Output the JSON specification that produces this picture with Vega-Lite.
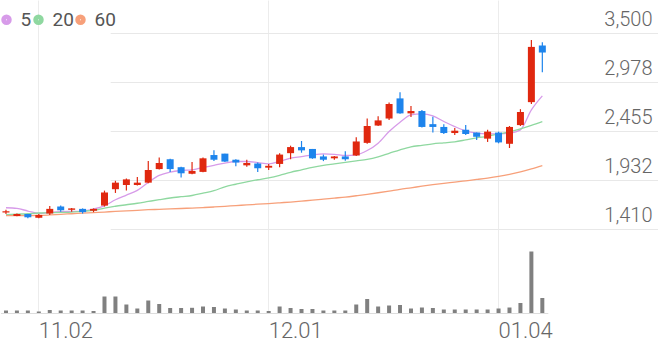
{
  "$schema": "https://vega.github.io/schema/vega-lite/v6.json",
  "padding": 0,
  "autosize": {"type": "pad"},
  "bounds": "flush",
  "spacing": 0,
  "background": "white",
  "config": {"view": {"stroke": null}, "font": "Roboto", "axis": {"title": null}},
  "datasets": {
    "prices": [
      {"date": "2020-10-28", "open": 1585, "high": 1615, "low": 1570, "close": 1600, "volume": 250000, "ma5": 1637, "ma20": 1562, "ma60": 1552},
      {"date": "2020-10-29", "open": 1550, "high": 1575, "low": 1545, "close": 1570, "volume": 250000, "ma5": 1630, "ma20": 1568, "ma60": 1552},
      {"date": "2020-10-30", "open": 1570, "high": 1570, "low": 1525, "close": 1535, "volume": 250000, "ma5": 1602, "ma20": 1573, "ma60": 1554},
      {"date": "2020-11-02", "open": 1530, "high": 1570, "low": 1525, "close": 1560, "volume": 150000, "ma5": 1576, "ma20": 1581, "ma60": 1555},
      {"date": "2020-11-03", "open": 1575, "high": 1655, "low": 1560, "close": 1625, "volume": 300000, "ma5": 1587, "ma20": 1584, "ma60": 1560},
      {"date": "2020-11-04", "open": 1650, "high": 1660, "low": 1595, "close": 1610, "volume": 250000, "ma5": 1595, "ma20": 1587, "ma60": 1567},
      {"date": "2020-11-05", "open": 1615, "high": 1635, "low": 1595, "close": 1630, "volume": 250000, "ma5": 1598, "ma20": 1591, "ma60": 1573},
      {"date": "2020-11-06", "open": 1625, "high": 1630, "low": 1575, "close": 1590, "volume": 250000, "ma5": 1602, "ma20": 1600, "ma60": 1579},
      {"date": "2020-11-09", "open": 1605, "high": 1630, "low": 1590, "close": 1625, "volume": 200000, "ma5": 1623, "ma20": 1608, "ma60": 1585},
      {"date": "2020-11-10", "open": 1660, "high": 1820, "low": 1650, "close": 1800, "volume": 1650000, "ma5": 1658, "ma20": 1634, "ma60": 1591},
      {"date": "2020-11-11", "open": 1835, "high": 1925, "low": 1795, "close": 1905, "volume": 1650000, "ma5": 1722, "ma20": 1653, "ma60": 1598},
      {"date": "2020-11-12", "open": 1880, "high": 1950, "low": 1820, "close": 1940, "volume": 850000, "ma5": 1772, "ma20": 1669, "ma60": 1603},
      {"date": "2020-11-13", "open": 1880, "high": 1965, "low": 1875, "close": 1905, "volume": 450000, "ma5": 1822, "ma20": 1685, "ma60": 1610},
      {"date": "2020-11-16", "open": 1905, "high": 2135, "low": 1900, "close": 2040, "volume": 1250000, "ma5": 1907, "ma20": 1704, "ma60": 1616},
      {"date": "2020-11-17", "open": 2050, "high": 2175, "low": 2045, "close": 2115, "volume": 900000, "ma5": 1982, "ma20": 1723, "ma60": 1620},
      {"date": "2020-11-18", "open": 2155, "high": 2160, "low": 2020, "close": 2050, "volume": 500000, "ma5": 2018, "ma20": 1741, "ma60": 1624},
      {"date": "2020-11-19", "open": 2070, "high": 2075, "low": 1960, "close": 2005, "volume": 500000, "ma5": 2035, "ma20": 1755, "ma60": 1629},
      {"date": "2020-11-20", "open": 2000, "high": 2125, "low": 1995, "close": 2030, "volume": 520000, "ma5": 2042, "ma20": 1768, "ma60": 1634},
      {"date": "2020-11-23", "open": 2020, "high": 2175, "low": 2015, "close": 2165, "volume": 650000, "ma5": 2067, "ma20": 1792, "ma60": 1639},
      {"date": "2020-11-24", "open": 2200, "high": 2250, "low": 2135, "close": 2150, "volume": 600000, "ma5": 2090, "ma20": 1819, "ma60": 1645},
      {"date": "2020-11-25", "open": 2215, "high": 2215, "low": 2125, "close": 2130, "volume": 450000, "ma5": 2114, "ma20": 1861, "ma60": 1652},
      {"date": "2020-11-26", "open": 2150, "high": 2155, "low": 2080, "close": 2120, "volume": 350000, "ma5": 2131, "ma20": 1888, "ma60": 1660},
      {"date": "2020-11-27", "open": 2090, "high": 2150, "low": 2075, "close": 2115, "volume": 250000, "ma5": 2131, "ma20": 1914, "ma60": 1667},
      {"date": "2020-11-30", "open": 2110, "high": 2120, "low": 2020, "close": 2060, "volume": 250000, "ma5": 2120, "ma20": 1936, "ma60": 1675},
      {"date": "2020-12-01", "open": 2065, "high": 2105, "low": 2040, "close": 2085, "volume": 200000, "ma5": 2106, "ma20": 1957, "ma60": 1682},
      {"date": "2020-12-02", "open": 2105, "high": 2220, "low": 2070, "close": 2205, "volume": 650000, "ma5": 2131, "ma20": 1984, "ma60": 1690},
      {"date": "2020-12-03", "open": 2220, "high": 2300, "low": 2155, "close": 2285, "volume": 500000, "ma5": 2167, "ma20": 2016, "ma60": 1698},
      {"date": "2020-12-04", "open": 2285, "high": 2350, "low": 2225, "close": 2250, "volume": 400000, "ma5": 2184, "ma20": 2042, "ma60": 1708},
      {"date": "2020-12-07", "open": 2265, "high": 2265, "low": 2160, "close": 2165, "volume": 400000, "ma5": 2202, "ma20": 2069, "ma60": 1718},
      {"date": "2020-12-08", "open": 2185, "high": 2205, "low": 2135, "close": 2150, "volume": 250000, "ma5": 2213, "ma20": 2090, "ma60": 1729},
      {"date": "2020-12-09", "open": 2165, "high": 2190, "low": 2150, "close": 2185, "volume": 250000, "ma5": 2208, "ma20": 2106, "ma60": 1740},
      {"date": "2020-12-10", "open": 2185, "high": 2240, "low": 2140, "close": 2155, "volume": 250000, "ma5": 2195, "ma20": 2122, "ma60": 1751},
      {"date": "2020-12-11", "open": 2195, "high": 2390, "low": 2190, "close": 2345, "volume": 850000, "ma5": 2202, "ma20": 2138, "ma60": 1765},
      {"date": "2020-12-14", "open": 2330, "high": 2590, "low": 2320, "close": 2510, "volume": 1400000, "ma5": 2248, "ma20": 2154, "ma60": 1780},
      {"date": "2020-12-15", "open": 2515, "high": 2615, "low": 2510, "close": 2570, "volume": 650000, "ma5": 2327, "ma20": 2181, "ma60": 1797},
      {"date": "2020-12-16", "open": 2590, "high": 2760, "low": 2575, "close": 2745, "volume": 750000, "ma5": 2451, "ma20": 2218, "ma60": 1815},
      {"date": "2020-12-17", "open": 2805, "high": 2870, "low": 2640, "close": 2645, "volume": 800000, "ma5": 2551, "ma20": 2256, "ma60": 1834},
      {"date": "2020-12-18", "open": 2645, "high": 2725, "low": 2605, "close": 2670, "volume": 450000, "ma5": 2629, "ma20": 2288, "ma60": 1850},
      {"date": "2020-12-21", "open": 2670, "high": 2680, "low": 2495, "close": 2500, "volume": 550000, "ma5": 2640, "ma20": 2304, "ma60": 1867},
      {"date": "2020-12-22", "open": 2530, "high": 2610, "low": 2440, "close": 2500, "volume": 500000, "ma5": 2618, "ma20": 2320, "ma60": 1883},
      {"date": "2020-12-23", "open": 2500, "high": 2530, "low": 2425, "close": 2435, "volume": 350000, "ma5": 2558, "ma20": 2330, "ma60": 1898},
      {"date": "2020-12-24", "open": 2435, "high": 2490, "low": 2415, "close": 2460, "volume": 350000, "ma5": 2504, "ma20": 2341, "ma60": 1911},
      {"date": "2020-12-28", "open": 2470, "high": 2520, "low": 2415, "close": 2425, "volume": 350000, "ma5": 2458, "ma20": 2362, "ma60": 1925},
      {"date": "2020-12-29", "open": 2440, "high": 2440, "low": 2360, "close": 2395, "volume": 350000, "ma5": 2434, "ma20": 2384, "ma60": 1939},
      {"date": "2020-12-30", "open": 2375, "high": 2470, "low": 2340, "close": 2450, "volume": 350000, "ma5": 2426, "ma20": 2400, "ma60": 1954},
      {"date": "2021-01-04", "open": 2440, "high": 2450, "low": 2325, "close": 2335, "volume": 450000, "ma5": 2426, "ma20": 2426, "ma60": 1972},
      {"date": "2021-01-05", "open": 2320, "high": 2510, "low": 2275, "close": 2500, "volume": 550000, "ma5": 2434, "ma20": 2448, "ma60": 1994},
      {"date": "2021-01-06", "open": 2520, "high": 2690, "low": 2510, "close": 2660, "volume": 1000000, "ma5": 2469, "ma20": 2480, "ma60": 2021},
      {"date": "2021-01-07", "open": 2765, "high": 3430, "low": 2745, "close": 3355, "volume": 6150000, "ma5": 2682, "ma20": 2517, "ma60": 2053},
      {"date": "2021-01-08", "open": 3370, "high": 3405, "low": 3085, "close": 3295, "volume": 1500000, "ma5": 2832, "ma20": 2557, "ma60": 2088}
    ]
  },
  "vconcat": [
    {
      "width": 658,
      "height": 229,
      "data": {"name": "prices"},
      "encoding": {
        "x": {
          "field": "date",
          "type": "ordinal",
          "scale": {"type": "band", "range": [0.5, 547.8], "paddingInner": 0, "paddingOuter": 0},
          "axis": {
            "values": ["2020-11-02", "2020-12-01", "2021-01-04"],
            "grid": true,
            "gridColor": "#ececec",
            "labels": false,
            "ticks": false,
            "tickSize": 0,
            "domain": false,
            "bandPosition": 0.5,
            "title": null
          }
        }
      },
      "layer": [
        {
          "transform": [{"fold": ["ma5", "ma20", "ma60"], "as": ["ma", "value"]}],
          "mark": {"type": "line", "interpolate": "monotone"},
          "encoding": {
            "strokeWidth": {"value": 1.3},
            "y": {
              "field": "value",
              "type": "quantitative",
              "scale": {"domain": [1410, 3856], "nice": false, "zero": false},
              "axis": {
                "orient": "right",
                "values": [1410, 1932, 2455, 2978, 3500],
                "format": ",.0f",
                "grid": true,
                "gridColor": "#e8e8e8",
                "domain": false,
                "ticks": false,
                "tickSize": 0,
                "labelAlign": "right",
                "labelBaseline": "alphabetic",
                "labelOffset": -7.5,
                "labelPadding": -6,
                "labelFlush": false,
                "labelOverlap": false,
                "labelFontSize": 20,
                "labelFontWeight": 300,
                "labelColor": "#666666",
                "title": null
              }
            },
            "color": {
              "field": "ma",
              "type": "nominal",
              "scale": {"domain": ["ma5", "ma20", "ma60"], "range": ["#d79be9", "#8fd8a0", "#f7a07a"]},
              "legend": {
                "orient": "none",
                "legendX": 0,
                "legendY": 10,
                "direction": "horizontal",
                "title": null,
                "padding": 0,
                "symbolType": "circle",
                "symbolSize": 22,
                "symbolStrokeWidth": 5.8,
                "symbolOffset": -3,
                "labelFontSize": 19,
                "labelColor": "#555555",
                "labelOffset": 4.5,
                "columnPadding": -17.5,
                "labelExpr": "replace(datum.label, 'ma', '')"
              }
            }
          }
        },
        {
          "mark": {"type": "rule", "strokeWidth": 1.2},
          "encoding": {
            "y": {"field": "low", "type": "quantitative"},
            "y2": {"field": "high"},
            "color": {"condition": {"test": "datum.close >= datum.open", "value": "#e0280f"}, "value": "#1d84ec"}
          }
        },
        {
          "mark": {"type": "bar", "width": 7},
          "encoding": {
            "y": {"field": "open", "type": "quantitative"},
            "y2": {"field": "close"},
            "color": {"condition": {"test": "datum.close >= datum.open", "value": "#e0280f"}, "value": "#1d84ec"}
          }
        }
      ]
    },
    {
      "width": 658,
      "height": 84,
      "data": {"name": "prices"},
      "mark": {"type": "bar", "width": 4, "color": "#808080"},
      "encoding": {
        "x": {
          "field": "date",
          "type": "ordinal",
          "scale": {"type": "band", "range": [0.5, 547.8], "paddingInner": 0, "paddingOuter": 0},
          "axis": {
            "values": ["2020-11-02", "2020-12-01", "2021-01-04"],
            "grid": true,
            "gridColor": "#ececec",
            "ticks": false,
            "tickSize": 0,
            "domain": false,
            "bandPosition": 0.5,
            "labelAngle": 0,
            "labelAlign": "left",
            "labelBaseline": "alphabetic",
            "labelPadding": 24.3,
            "labelFontSize": 22,
            "labelFontWeight": 300,
            "labelColor": "#666666",
            "labelFlush": false,
            "labelOverlap": false,
            "labelExpr": "substring(datum.value, 5, 7) + '.' + substring(datum.value, 8, 10)",
            "title": null
          }
        },
        "y": {
          "field": "volume",
          "type": "quantitative",
          "scale": {"domain": [0, 8400000], "nice": false},
          "axis": {
            "values": [0],
            "grid": true,
            "gridColor": "#dddddd",
            "labels": false,
            "ticks": false,
            "tickSize": 0,
            "domain": false,
            "title": null
          }
        }
      }
    }
  ]
}
